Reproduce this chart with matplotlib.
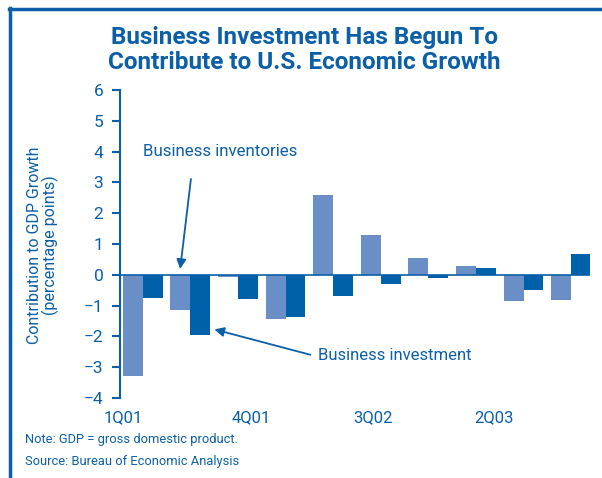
import matplotlib
matplotlib.use("Agg")
import matplotlib.pyplot as plt
import numpy as np

quarters = ["1Q01", "2Q01", "3Q01", "4Q01", "1Q02", "2Q02", "3Q02", "4Q02", "1Q03", "2Q03"]
inventories = [-3.3, -1.15, -0.08, -1.42, 2.6, 1.3, 0.55, 0.27, -0.85, -0.82]
investment = [-0.74, -1.97, -0.78, -1.36, -0.68, -0.3, -0.09, 0.23, -0.48, 0.68]
tick_labels = ["1Q01", "4Q01", "3Q02", "2Q03"]
yticks = [-4, -3, -2, -1, 0, 1, 2, 3, 4, 5, 6]

BLUE = "#0a5fa8"
LIGHT = "#6a8fc7"
DARK = "#0061ab"

plt.rcParams['font.family'] = ['Roboto', 'DejaVu Sans']

fig = plt.figure(figsize=(6.02, 4.78), dpi=100)
ax = fig.add_axes([120/602, 80/478, 470/602, 308/478])

x = np.arange(len(quarters))
w = 0.42
ax.bar(x - w/2, inventories, width=w, color=LIGHT, zorder=2)
ax.bar(x + w/2, investment, width=w, color=DARK, zorder=2)
ax.axhline(0, color=BLUE, lw=1.2, zorder=3)

ax.set_xlim(-0.477, 9.397)
ax.set_ylim(-4, 6)
ax.set_yticks(yticks)
ax.set_yticklabels([str(v).replace('-', '\u2212') for v in yticks])
for s in ["top", "right", "bottom"]:
    ax.spines[s].set_visible(False)
ax.spines["left"].set_color(BLUE)
ax.spines["left"].set_linewidth(1.5)
ax.tick_params(axis='y', direction='out', length=6, width=1.5, color=BLUE,
               labelcolor=BLUE, labelsize=12.5, pad=6)
ax.set_xticks([-0.41, 2.28, 4.83, 7.38])
ax.set_xticklabels(tick_labels)
ax.tick_params(axis='x', length=0, labelcolor=BLUE, labelsize=12, pad=9)

fig.text(43/602, 1 - 245/478, "Contribution to GDP Growth\n(percentage points)", color=BLUE,
         fontsize=11.5, rotation=90, ha='center', va='center', linespacing=1.05)

fig.text(0.505, 1 - 50/478, "Business Investment Has Begun To\nContribute to U.S. Economic Growth",
         ha='center', va='center', color=BLUE, fontsize=17.5, fontweight='bold', linespacing=1.12)

ax.annotate("", xy=(0.78, 0.1), xytext=(1.02, 3.2),
            arrowprops=dict(arrowstyle='-|>', color=BLUE, lw=1.3, mutation_scale=14))
ax.text(0.0, 4.0, "Business inventories", color=BLUE, fontsize=12.2, va='center', ha='left')
ax.annotate("", xy=(1.45, -1.75), xytext=(3.58, -2.62),
            arrowprops=dict(arrowstyle='-|>', color=BLUE, lw=1.3, mutation_scale=14))
ax.text(3.68, -2.62, "Business investment", color=BLUE, fontsize=12, va='center', ha='left')

fig.text(25/602, 1 - 440/478, "Note: GDP = gross domestic product.", color=BLUE, fontsize=9.3, va='center')
fig.text(25/602, 1 - 461/478, "Source: Bureau of Economic Analysis", color=BLUE, fontsize=9.3, va='center')

fig.add_artist(plt.Line2D([10/602, 10/602], [0, 1 - 8/478], color=BLUE, lw=2.5, transform=fig.transFigure))
fig.add_artist(plt.Line2D([9/602, 1], [1 - 9/478, 1 - 9/478], color=BLUE, lw=2.5, transform=fig.transFigure))

fig.savefig("out.png", dpi=100)
